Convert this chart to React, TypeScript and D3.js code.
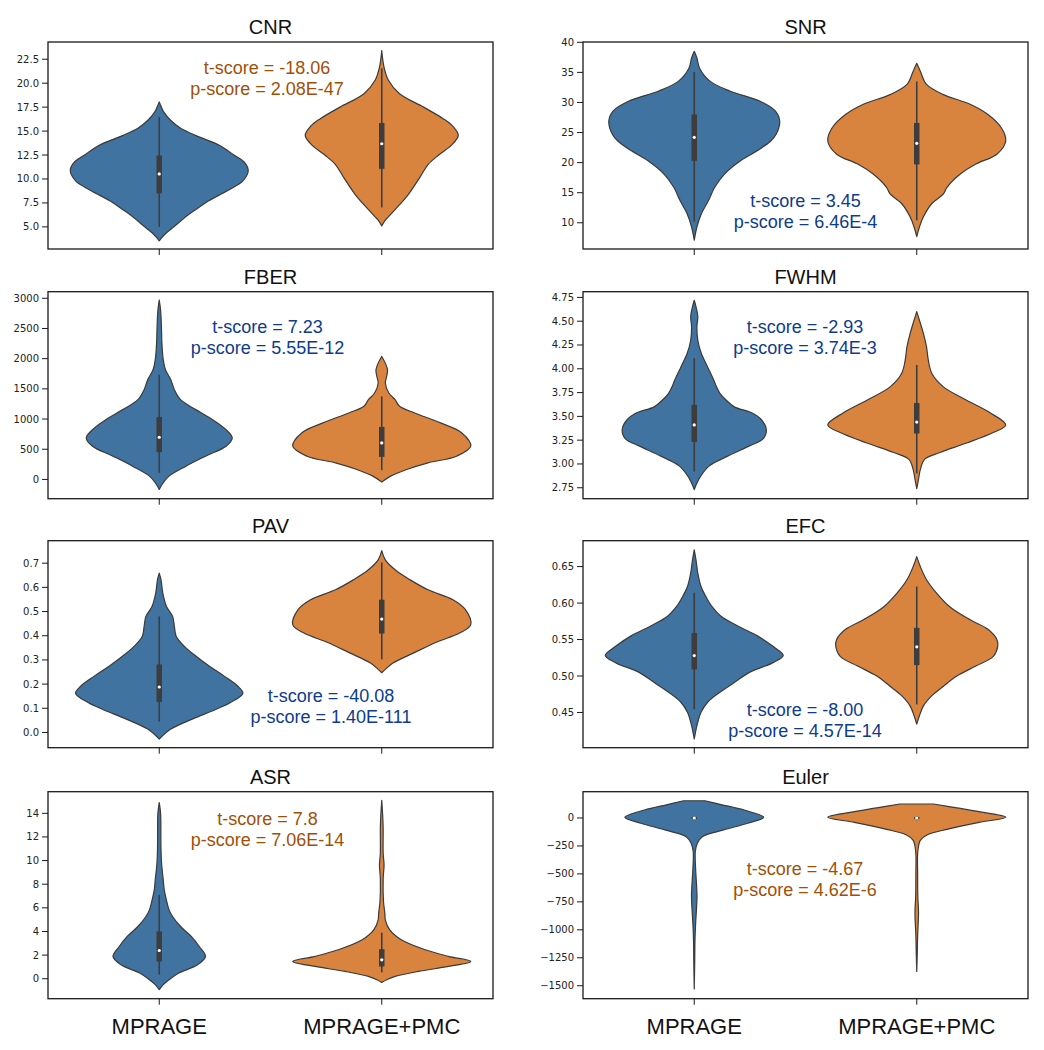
import React from "react";
import * as d3 from "d3";

const categories = ["MPRAGE", "MPRAGE+PMC"];
const metrics = ["CNR", "SNR", "FBER", "FWHM", "PAV", "EFC", "ASR", "Euler"];

// violin outlines: [value, relative half-width]
const cnrMprage = [[3.55,0],[4.2,0.06],[4.9,0.15],[5.6,0.24],[6.3,0.33],[7.0,0.44],[7.7,0.55],[8.8,0.77],[9.8,0.94],[10.9,1.0],[11.8,0.95],[12.5,0.84],[13.5,0.68],[14.5,0.42],[15.3,0.24],[16.1,0.13],[17,0.05],[17.6,0.02],[18.05,0]];
const cnrPmc = [[5.1,0],[5.7,0.04],[6.2,0.09],[7,0.17],[8.4,0.3],[10.2,0.43],[11.5,0.52],[12.5,0.64],[13.5,0.78],[14.55,0.86],[15.5,0.8],[16.3,0.69],[17.5,0.47],[18.9,0.2],[20.3,0.075],[21.7,0.025],[23.4,0]];
const snrMprage = [[7.1,0],[9.3,0.03],[11.5,0.08],[13.7,0.16],[15.9,0.23],[18.1,0.34],[20.3,0.52],[22,0.71],[23.6,0.86],[24.7,0.92],[26.9,0.96],[28.6,0.91],[30.2,0.74],[31.9,0.4],[33.5,0.18],[35.7,0.06],[37.4,0.03],[38.5,0]];
const snrPmc = [[7.7,0],[9.3,0.03],[11,0.075],[13.2,0.17],[14.8,0.3],[15.9,0.34],[18.1,0.49],[19.8,0.67],[21.4,0.9],[23.6,1.0],[25.8,0.95],[28,0.8],[29.7,0.6],[31.3,0.3],[33,0.11],[35.2,0.04],[36.5,0]];
const fberMprage = [[-165,0],[-55,0.045],[55,0.11],[220,0.3],[385,0.52],[550,0.75],[688,0.82],[825,0.75],[990,0.6],[1156,0.41],[1321,0.24],[1486,0.17],[1651,0.13],[1816,0.07],[1981,0.045],[2256,0.03],[2500,0.025],[2807,0.015],[2972,0]];
const fberPmc = [[-44,0],[55,0.1],[165,0.28],[275,0.52],[385,0.84],[550,1.0],[770,0.9],[936,0.66],[1101,0.37],[1211,0.2],[1321,0.15],[1431,0.08],[1596,0.04],[1706,0.055],[1816,0.065],[1926,0.04],[2036,0]];
const fwhmMprage = [[2.73,0],[2.8,0.03],[2.87,0.07],[2.98,0.17],[3.08,0.37],[3.19,0.62],[3.26,0.77],[3.36,0.81],[3.47,0.75],[3.54,0.64],[3.6,0.45],[3.67,0.36],[3.74,0.29],[3.81,0.25],[3.88,0.22],[4.02,0.15],[4.16,0.08],[4.3,0.04],[4.44,0.03],[4.55,0.04],[4.65,0.02],[4.72,0]];
const fwhmPmc = [[2.74,0],[2.84,0.02],[2.94,0.04],[3.05,0.09],[3.12,0.26],[3.22,0.56],[3.33,0.86],[3.41,1.0],[3.54,0.82],[3.67,0.56],[3.81,0.3],[3.95,0.17],[4.09,0.13],[4.23,0.11],[4.37,0.075],[4.51,0.03],[4.6,0]];
const pavMprage = [[-0.027,0],[0.014,0.13],[0.055,0.37],[0.096,0.64],[0.124,0.8],[0.162,0.94],[0.192,0.88],[0.233,0.73],[0.275,0.56],[0.316,0.41],[0.357,0.28],[0.398,0.19],[0.439,0.17],[0.48,0.15],[0.522,0.08],[0.576,0.04],[0.631,0.02],[0.659,0]];
const pavPmc = [[0.247,0],[0.261,0.04],[0.288,0.13],[0.329,0.36],[0.371,0.6],[0.412,0.88],[0.446,1.0],[0.508,0.94],[0.549,0.8],[0.59,0.52],[0.631,0.32],[0.673,0.15],[0.714,0.04],[0.752,0]];
const efcMprage = [[0.4136,0],[0.432,0.03],[0.45,0.075],[0.464,0.15],[0.477,0.28],[0.491,0.45],[0.505,0.62],[0.518,0.88],[0.528,1.0],[0.541,0.88],[0.555,0.71],[0.568,0.5],[0.582,0.3],[0.595,0.2],[0.609,0.13],[0.623,0.075],[0.641,0.04],[0.659,0.02],[0.673,0]];
const efcPmc = [[0.434,0],[0.4455,0.03],[0.459,0.075],[0.473,0.17],[0.486,0.3],[0.5,0.45],[0.514,0.67],[0.527,0.86],[0.541,0.91],[0.55,0.9],[0.564,0.8],[0.577,0.6],[0.595,0.37],[0.614,0.22],[0.632,0.11],[0.65,0.04],[0.6636,0]];
const asrMprage = [[-0.93,0],[-0.5,0.045],[-0.08,0.11],[0.48,0.22],[1.18,0.43],[1.89,0.52],[2.73,0.45],[3.58,0.36],[4.42,0.24],[5.27,0.15],[5.83,0.11],[6.68,0.08],[7.52,0.056],[8.37,0.045],[9.77,0.026],[11.2,0.019],[14,0.015],[14.9,0]];
const asrPmc = [[-0.31,0],[-0.08,0.055],[0.2,0.15],[0.62,0.41],[1.04,0.75],[1.46,1.0],[1.89,0.75],[2.45,0.49],[3.3,0.22],[4.14,0.09],[4.99,0.04],[5.55,0.035],[6.5,0.02],[8.5,0.016],[9.6,0.026],[10.6,0.016],[13,0.015],[15.1,0]];
const eulerMprage = [[-1530,0],[-1300,0.005],[-1100,0.008],[-950,0.015],[-800,0.026],[-700,0.031],[-600,0.026],[-450,0.015],[-300,0.012],[-226,0.035],[-167,0.09],[-107,0.33],[-47,0.6],[6,0.78],[71,0.56],[120,0.3],[154,0.12]];
const eulerPmc = [[-1372,0],[-1200,0.006],[-1050,0.01],[-850,0.02],[-700,0.012],[-500,0.01],[-300,0.012],[-200,0.04],[-150,0.12],[-100,0.35],[-40,0.7],[6,1.0],[50,0.75],[90,0.45],[125,0.19]];

// inner box stats: [whiskerLow, q1, median, q3, whiskerHigh]
const cnrStats = [[5.0,8.5,10.53,12.45,16.48],[7.03,11.06,13.68,15.85,21.56]];
const snrStats = [[10.16,20.3,24.2,28.0,35.05],[10.4,19.7,23.2,26.6,33.5]];
const fberStats = [[110,451,699,1035,1734],[154,374,605,870,1376]];
const fwhmStats = [[2.92,3.23,3.41,3.62,4.11],[2.9,3.32,3.44,3.64,4.04]];
const pavStats = [[0.045,0.126,0.188,0.281,0.48],[0.302,0.409,0.469,0.549,0.703]];
const efcStats = [[0.4545,0.509,0.528,0.559,0.614],[0.461,0.515,0.54,0.566,0.6227]];
const asrStats = [[0.34,1.46,2.39,4.0,7.1],[0.54,1.04,1.6,2.5,3.9]];
const eulerStats = [[-20,-10,0,8,15],[-20,-10,0,8,15]];

const cnrTicks = [5, 7.5, 10, 12.5, 15, 17.5, 20, 22.5];
const snrTicks = [10, 15, 20, 25, 30, 35, 40];
const fberTicks = [0, 500, 1000, 1500, 2000, 2500, 3000];
const fwhmTicks = [2.75, 3.0, 3.25, 3.5, 3.75, 4.0, 4.25, 4.5, 4.75];
const pavTicks = [0, 0.1, 0.2, 0.3, 0.4, 0.5, 0.6, 0.7];
const efcTicks = [0.45, 0.5, 0.55, 0.6, 0.65];
const asrTicks = [0, 2, 4, 6, 8, 10, 12, 14];
const eulerTicks = [-1500, -1250, -1000, -750, -500, -250, 0];

const tScores = ["-18.06", "3.45", "7.23", "-2.93", "-40.08", "-8.00", "7.8", "-4.67"];
const pScores = ["2.08E-47", "6.46E-4", "5.55E-12", "3.74E-3", "1.40E-111", "4.57E-14", "7.06E-14", "4.62E-6"];

// assembled per panel
const violins = [
  [cnrMprage, cnrPmc], [snrMprage, snrPmc], [fberMprage, fberPmc], [fwhmMprage, fwhmPmc],
  [pavMprage, pavPmc], [efcMprage, efcPmc], [asrMprage, asrPmc], [eulerMprage, eulerPmc],
];
const stats = [cnrStats, snrStats, fberStats, fwhmStats, pavStats, efcStats, asrStats, eulerStats];
const ticks = [cnrTicks, snrTicks, fberTicks, fwhmTicks, pavTicks, efcTicks, asrTicks, eulerTicks];
const tickFormats = [".1f", "d", "d", ".2f", ".1f", ".2f", "d", "d"];
const yDomains = [[2.69, 24.3], [5.64, 40.05], [-319, 3109], [2.635, 4.81], [-0.063, 0.793], [0.4017, 0.6855], [-1.69, 15.83], [-1616, 235]];

// styling / layout
const colX = [48, 583];
const rowY = [42, 291.7, 540.7, 791.7];
const W = 445;
const H = 207;
const fills = ["#4073a0", "#d8843f"];
const textBlue = "#0d3b8e";
const textOrange = "#a24f06";
const annColors = [textOrange, textBlue, textBlue, textBlue, textBlue, textBlue, textOrange, textOrange];
const annPos = [[219, 32], [222.5, 165], [219.5, 41.6], [222, 41.6], [283, 161], [222, 175], [219.5, 33], [222, 83]];
const sans = "Liberation Sans, Arial, Helvetica, sans-serif";
const tickFont = "DejaVu Sans, sans-serif";

function Panel({ i }: { i: number }) {
  const col = i % 2;
  const row = Math.floor(i / 2);
  const left = colX[col];
  const top = rowY[row];
  const y = d3.scaleLinear().domain(yDomains[i]).range([top + H, top]);
  const x = d3.scalePoint<string>().domain(categories).range([left + W / 4, left + (3 * W) / 4]);
  const step = W / 2;
  const w = d3.scaleLinear().domain([0, 1]).range([0, 0.4 * step]);
  const fmt = d3.format(tickFormats[i]);
  const [ax, ay] = annPos[i];

  return (
    <g>
      <text x={left + W / 2} y={top - 8} textAnchor="middle" fontFamily={sans} fontSize={20} fill="#111">
        {metrics[i]}
      </text>
      {categories.map((c, k) => {
        const cx = x(c) as number;
        const area = d3
          .area<number[]>()
          .y((d) => y(d[0]))
          .x0((d) => cx - w(d[1]))
          .x1((d) => cx + w(d[1]))
          .curve(d3.curveCatmullRom.alpha(0.5));
        const s = stats[i][k];
        return (
          <g key={c}>
            <path d={area(violins[i][k]) || ""} fill={fills[k]} stroke="#3a3a3a" strokeWidth={1.2} strokeLinejoin="round" />
            <line x1={cx} x2={cx} y1={y(s[0])} y2={y(s[4])} stroke="#3d3d3d" strokeWidth={1.6} />
            <line x1={cx} x2={cx} y1={y(s[1])} y2={y(s[3])} stroke="#3d3d3d" strokeWidth={5.5} />
            <circle cx={cx} cy={y(s[2])} r={1.6} fill="#fff" />
          </g>
        );
      })}
      <rect x={left} y={top} width={W} height={H} fill="none" stroke="#1a1a1a" strokeWidth={1.3} />
      {ticks[i].map((t) => (
        <g key={t}>
          <line x1={left - 6} x2={left} y1={y(t)} y2={y(t)} stroke="#1a1a1a" strokeWidth={1} />
          <text x={left - 9} y={y(t)} dy="0.35em" textAnchor="end" fontFamily={tickFont} fontSize={10} fill="#222">
            {fmt(t)}
          </text>
        </g>
      ))}
      {categories.map((c) => (
        <line key={c} x1={x(c)} x2={x(c)} y1={top + H} y2={top + H + 6} stroke="#1a1a1a" strokeWidth={1} />
      ))}
      {row === 3 &&
        categories.map((c) => (
          <text key={c} x={x(c)} y={1034} textAnchor="middle" fontFamily={sans} fontSize={22} fill="#111">
            {c}
          </text>
        ))}
      <text x={left + ax} y={top + ay} textAnchor="middle" fontFamily={sans} fontSize={18} fill={annColors[i]}>
        {`t-score = ${tScores[i]}`}
      </text>
      <text x={left + ax} y={top + ay + 21} textAnchor="middle" fontFamily={sans} fontSize={18} fill={annColors[i]}>
        {`p-score = ${pScores[i]}`}
      </text>
    </g>
  );
}

export default function App() {
  return (
    <svg width={1044} height={1050} style={{ position: "absolute", left: 0, top: 0, background: "#fff" }}>
      <rect width={1044} height={1050} fill="#fff" />
      {metrics.map((m, i) => (
        <Panel key={m} i={i} />
      ))}
    </svg>
  );
}
